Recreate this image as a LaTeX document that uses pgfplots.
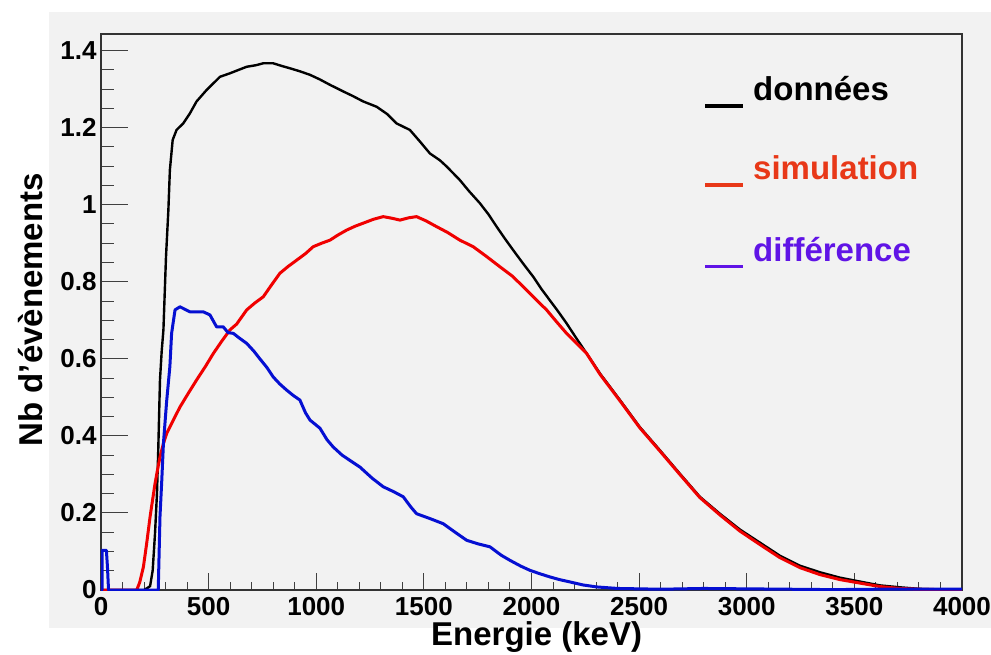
\documentclass[border=0pt]{standalone}
\usepackage{fontspec}
\setmainfont{Liberation Sans}
\usepackage{pgfplots}
\pgfplotsset{compat=1.18}
\definecolor{bggray}{RGB}{242,242,242}
\definecolor{simcol}{RGB}{232,56,24}
\definecolor{difcol}{RGB}{96,20,230}
\definecolor{histred}{RGB}{240,0,0}
\definecolor{histblue}{RGB}{5,15,210}
\newcommand{\legline}{\rule[-7pt]{38pt}{3.5pt}\hspace{10pt}}
\begin{document}
\begin{tikzpicture}[x=1pt,y=1pt]
\path[use as bounding box, fill=white] (0,0) rectangle (991,654);
\fill[bggray] (49,26) rectangle (991,642);
\pgfplotsset{common/.style={width=861pt,height=556pt,scale only axis,
  at={(101pt,64pt)}, anchor=south west,
  xmin=0,xmax=4000,ymin=0,ymax=1.443,
  axis line style={line width=1.2pt,draw=black!80},
  tick style={line width=1pt,draw=black!75},
  tick align=inside, xtick pos=bottom, ytick pos=left,
  ticklabel style={font=\fontsize{26}{26}\selectfont\bfseries},
  /pgf/number format/assume math mode=true,
  /pgf/number format/1000 sep={},
  scaled ticks=false}}
% axis for x ticks and background
\begin{axis}[common,
  axis background/.style={fill=bggray},
  xtick={0,500,1000,1500,2000,2500,3000,3500,4000},
  minor x tick num=4, ytick=\empty,
  major tick length=17pt, minor tick length=8pt,
  xticklabel style={yshift=-4pt},
  xlabel={Energie (keV)},
  xlabel style={at={(axis description cs:0.506,-0.099)}, anchor=base,
    font=\fontsize{33}{33}\selectfont\bfseries}]
\end{axis}
% main axis with y ticks and data
\begin{axis}[common,
  xtick=\empty,
  ytick={0,0.2,0.4,0.6,0.8,1,1.2,1.4},
  minor y tick num=3,
  major tick length=27pt, minor tick length=13pt,
  yticklabel style={xshift=-1pt},
  ylabel={Nb d’évènements},
  ylabel style={at={(axis description cs:-0.0685,0.504)}, anchor=base,
    font=\fontsize{33}{33}\selectfont\bfseries}]
% données
\addplot[black, line width=2.4pt, line join=round] coordinates {
(0,0) (200,0) (215,0.005) (228,0.01) (240,0.05) (251,0.147) (260,0.25)
(266,0.363) (274,0.545) (282,0.62) (290,0.675) (302,0.865) (313,0.986)
(320,1.09) (333,1.168) (351,1.194) (382,1.211) (413,1.237) (444,1.268)
(491,1.298) (553,1.332) (599,1.341) (640,1.350) (677,1.358) (720,1.362)
(754,1.367) (800,1.367) (840,1.360) (878,1.354) (925,1.346) (971,1.337)
(1017,1.325) (1064,1.311) (1125,1.294) (1170,1.282) (1218,1.268)
(1281,1.254) (1330,1.235) (1373,1.211) (1435,1.194) (1480,1.165)
(1528,1.133) (1575,1.115) (1606,1.099) (1667,1.064) (1710,1.035)
(1760,1.004) (1800,0.975) (1838,0.943) (1875,0.913) (1915,0.882)
(1960,0.848) (2008,0.813) (2045,0.782) (2085,0.752) (2125,0.722)
(2163,0.692) (2210,0.652) (2256,0.614) (2318,0.562) (2411,0.493)
(2503,0.423) (2596,0.363) (2689,0.302) (2782,0.242) (2875,0.198)
(2968,0.157) (3061,0.123) (3154,0.089) (3247,0.063) (3340,0.046)
(3433,0.032) (3525,0.022) (3618,0.012) (3711,0.007) (3800,0.003)
(3900,0.001) (4000,0)
};
% simulation
\addplot[histred, line width=3pt, line join=round] coordinates {
(0,0) (166,0) (180,0.02) (197,0.06) (212,0.12) (228,0.19) (240,0.235)
(251,0.276) (262,0.31) (274,0.345) (290,0.38) (305,0.406) (335,0.44)
(367,0.475) (405,0.51) (444,0.545) (485,0.58) (522,0.614) (560,0.645)
(599,0.675) (630,0.690) (677,0.727) (715,0.745) (754,0.761) (790,0.79)
(831,0.822) (870,0.840) (909,0.856) (950,0.873) (986,0.891) (1025,0.900)
(1064,0.908) (1100,0.921) (1141,0.934) (1180,0.944) (1218,0.952)
(1265,0.962) (1311,0.969) (1350,0.965) (1389,0.960) (1430,0.966)
(1466,0.969) (1510,0.958) (1559,0.943) (1610,0.928) (1667,0.908)
(1729,0.891) (1790,0.866) (1853,0.839) (1910,0.815) (1962,0.787)
(2015,0.757) (2070,0.727) (2115,0.697) (2163,0.666) (2210,0.640)
(2256,0.614) (2318,0.560) (2411,0.491) (2503,0.421) (2596,0.361)
(2689,0.300) (2782,0.240) (2875,0.195) (2968,0.153) (3061,0.118)
(3154,0.084) (3247,0.058) (3340,0.040) (3433,0.027) (3525,0.018)
(3618,0.009) (3711,0.004) (3800,0.002) (3900,0.001) (4000,0)
};
% différence
\addplot[histblue, line width=3pt, line join=round] coordinates {
(0,0) (5,0) (5,0.103) (25,0.103) (30,0.06) (35,0) (266,0) (274,0.19)
(282,0.28) (290,0.38) (305,0.49) (320,0.58) (328,0.666) (344,0.727)
(367,0.735) (413,0.722) (475,0.722) (506,0.714) (530,0.69) (537,0.683)
(568,0.683) (590,0.668) (615,0.666) (640,0.655) (677,0.640) (710,0.62)
(738,0.600) (770,0.578) (800,0.553) (830,0.535) (862,0.519) (893,0.505)
(924,0.493) (950,0.46) (971,0.441) (1017,0.420) (1050,0.39) (1079,0.371)
(1120,0.35) (1160,0.335) (1203,0.319) (1260,0.29) (1311,0.268)
(1360,0.255) (1404,0.242) (1440,0.215) (1466,0.198) (1530,0.185)
(1590,0.172) (1650,0.148) (1699,0.129) (1750,0.12) (1807,0.112)
(1860,0.09) (1900,0.077) (1950,0.062) (1993,0.051) (2040,0.042)
(2085,0.034) (2130,0.027) (2178,0.021) (2240,0.013) (2302,0.008)
(2400,0.004) (2500,0.003) (2600,0.002) (2800,0.004) (3000,0.003)
(3200,0.002) (3400,0.001) (3600,0.002) (3800,0.002) (4000,0.002)
};
\end{axis}
\node[anchor=base west, inner sep=0pt, text=black, font=\fontsize{33}{33}\selectfont\bfseries] at (705,553) {\legline données};
\node[anchor=base west, inner sep=0pt, text=simcol, font=\fontsize{33}{33}\selectfont\bfseries] at (705,474) {\legline simulation};
\node[anchor=base west, inner sep=0pt, text=difcol, font=\fontsize{33}{33}\selectfont\bfseries] at (705,392.5) {\legline différence};
\end{tikzpicture}
\end{document}
